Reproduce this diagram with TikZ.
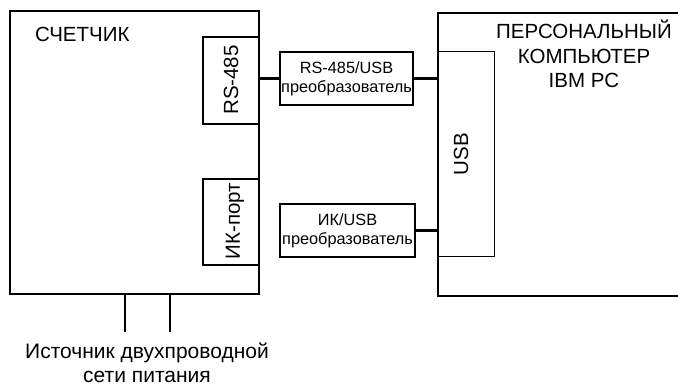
\documentclass[tikz,border=0pt]{standalone}
\usepackage{fontspec}
\setmainfont{Liberation Sans}
\begin{document}
\begin{tikzpicture}[x=1pt,y=-1pt,
  port/.style={draw,line width=1.1pt,inner sep=0pt},
  conv/.style={draw,line width=2.4pt,inner sep=0pt,align=center,font=\fontsize{16.3}{19}\selectfont},
  wire/.style={line width=2.2pt},
  lbl/.style={inner sep=0pt,font=\fontsize{20.5}{24.5}\selectfont},
  pwr/.style={line width=1.2pt}]
\useasboundingbox (0,0) rectangle (678,390);
% meter
\node[port,line width=1.2pt,minimum width=249pt,minimum height=283pt] (meter) at (134.5,152.5) {};
\node[lbl,anchor=west] (meterlbl) at (35,34) {СЧЕТЧИК};
\node[port,minimum width=56pt,minimum height=87pt] (rs) at (231,80.5) {};
\node[lbl,rotate=90] (rslbl) at (231,80) {RS-485};
\node[port,minimum width=56pt,minimum height=86pt] (ik) at (231,222) {};
\node[lbl,rotate=90] (iklbl) at (235,221) {ИК-порт};
% PC
\node[port,line width=1.2pt,minimum width=252pt,minimum height=283pt] (pc) at (564,154.5) {};
\node[lbl,align=center,anchor=north] (pclbl) at (584,20) {ПЕРСОНАЛЬНЫЙ\\КОМПЬЮТЕР\\IBM PC};
\node[port,line width=1pt,minimum width=56pt,minimum height=205pt] (usb) at (466,154.5) {};
\node[lbl,rotate=90] (usblbl) at (461,154) {USB};
% converters
\node[conv,minimum width=133pt,minimum height=53pt] (c1) at (346.5,78.5) {RS-485/USB\\преобразователь};
\node[conv,minimum width=135pt,minimum height=53pt] (c2) at (347.5,230.5) {ИК/USB\\преобразователь};
\draw[wire] (c1.west) -- (c1.west -| rs.east);
\draw[wire] (c1.east) -- (c1.east -| usb.west);
\draw[wire] (c2.east) -- (c2.east -| usb.west);
% power
\coordinate (w1) at (125,332);
\coordinate (w2) at (170,332);
\draw[pwr] (w1 |- meter.south) -- (w1);
\draw[pwr] (w2 |- meter.south) -- (w2);
\node[inner sep=0pt,align=center,anchor=north,font=\fontsize{21}{23.5}\selectfont] (src) at (147,343) {Источник двухпроводной\\сети питания};
\end{tikzpicture}
\end{document}
